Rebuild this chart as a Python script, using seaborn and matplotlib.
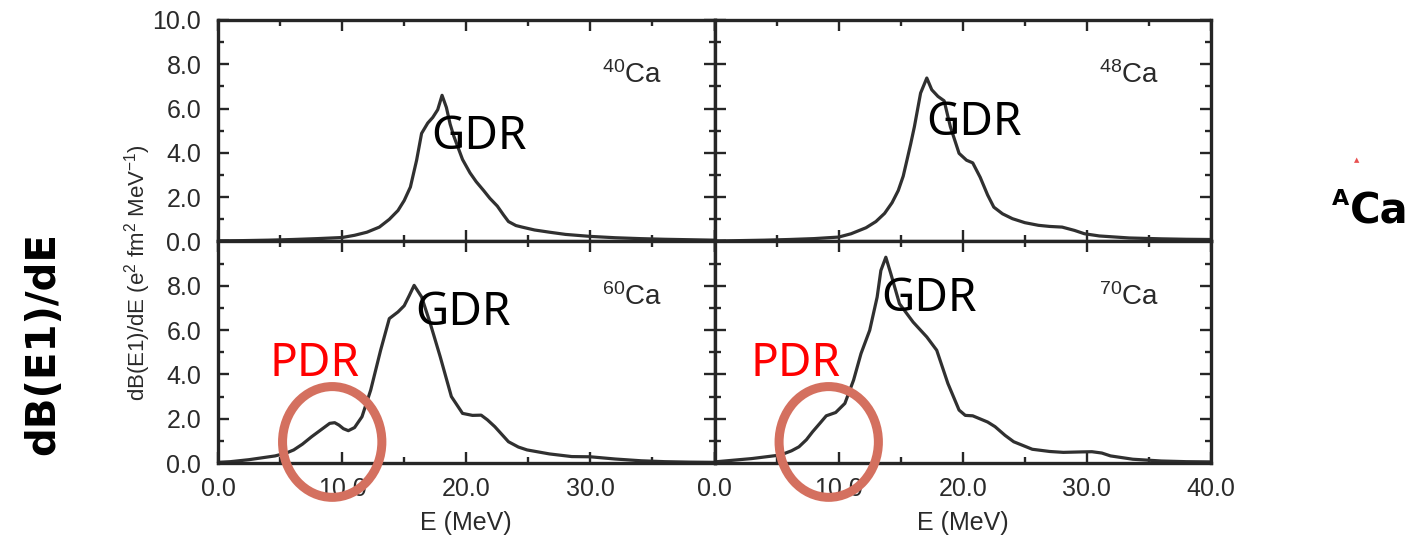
import numpy as np
import pandas as pd
import matplotlib
matplotlib.use("Agg")
import matplotlib.pyplot as plt
from matplotlib.patches import Ellipse
from matplotlib.ticker import MultipleLocator, FixedLocator, FixedFormatter
import seaborn as sns

# E1 strength distributions dB(E1)/dE for calcium isotopes
E_40 = [0, 2, 4, 6, 8, 10, 11, 12, 13, 13.8, 14.5, 15.0, 15.5, 16.0, 16.4, 16.9, 17.3, 17.7,
        18.05, 18.4, 18.7, 19.0, 19.7, 20.3, 20.8, 21.4, 21.9, 22.5, 23.0, 23.4, 24.0, 24.5,
        25.5, 26.7, 28, 30, 32, 34, 36, 38, 40]
dB_40 = [0.03, 0.04, 0.06, 0.09, 0.13, 0.18, 0.28, 0.42, 0.65, 1.0, 1.4, 1.85, 2.46, 3.67, 4.88,
         5.35, 5.6, 5.95, 6.6, 6.05, 5.3, 4.75, 3.7, 3.1, 2.7, 2.3, 1.95, 1.6, 1.2, 0.9, 0.72,
         0.65, 0.52, 0.42, 0.32, 0.23, 0.17, 0.13, 0.1, 0.08, 0.06]

E_48 = [0, 2, 4, 6, 8, 10, 11, 12.2, 13, 13.7, 14.3, 14.8, 15.2, 15.5, 15.8, 16.1, 16.6, 17.1,
        17.5, 18.0, 18.5, 19.0, 19.7, 20.3, 20.8, 21.4, 22.0, 22.5, 23.2, 24.0, 25.0, 26.1,
        27.0, 28.0, 29.0, 29.8, 31, 33.4, 36, 38, 40]
dB_48 = [0.02, 0.04, 0.06, 0.09, 0.13, 0.2, 0.35, 0.62, 0.9, 1.27, 1.75, 2.3, 2.95, 3.67, 4.4,
         5.18, 6.7, 7.38, 6.85, 6.55, 6.35, 5.18, 3.98, 3.67, 3.55, 2.9, 2.1, 1.55, 1.25, 1.03,
         0.85, 0.73, 0.68, 0.65, 0.5, 0.35, 0.25, 0.16, 0.12, 0.1, 0.09]

E_60 = [0, 1, 2.5, 4.6, 5.5, 6.1, 6.8, 7.55, 8.3, 9.0, 9.4, 9.75, 10.1, 10.5, 11.0, 11.6, 12.3,
        13.1, 13.8, 14.5, 15.0, 15.4, 15.8, 16.4, 17.1, 17.9, 18.8, 19.7, 20.5, 21.2, 21.7,
        22.3, 23.4, 24.2, 24.9, 26.7, 28.5, 30.0, 32, 34.1, 36, 38, 40]
dB_60 = [0.03, 0.06, 0.15, 0.32, 0.45, 0.59, 0.85, 1.19, 1.5, 1.79, 1.82, 1.71, 1.55, 1.46, 1.6,
         2.09, 3.29, 5.09, 6.52, 6.82, 7.1, 7.55, 8.02, 7.5, 6.3, 4.8, 3.0, 2.24, 2.15, 2.16,
         1.95, 1.64, 0.96, 0.72, 0.59, 0.41, 0.29, 0.28, 0.18, 0.1, 0.06, 0.04, 0.03]

E_70 = [0, 1, 3, 5.3, 6.2, 6.8, 7.4, 7.9, 8.5, 9.0, 9.76, 10.5, 11.2, 11.8, 12.5, 13.1, 13.4,
        13.8, 14.2, 14.9, 16.0, 17.1, 17.9, 18.8, 19.7, 20.2, 20.8, 22.0, 22.6, 23.4, 24.1,
        25.6, 27, 28.1, 29.5, 30.4, 31.2, 31.9, 33.7, 36, 38, 40]
dB_70 = [0.05, 0.1, 0.2, 0.36, 0.55, 0.73, 1.05, 1.41, 1.8, 2.13, 2.28, 2.69, 3.74, 4.94, 5.99,
         7.49, 8.69, 9.29, 8.55, 7.19, 6.36, 5.69, 5.09, 3.59, 2.39, 2.15, 2.13, 1.85, 1.64,
         1.25, 0.96, 0.62, 0.52, 0.48, 0.5, 0.51, 0.45, 0.32, 0.17, 0.09, 0.06, 0.05]

isotopes = ["40", "48", "60", "70"]
energies = [E_40, E_48, E_60, E_70]
strengths = [dB_40, dB_48, dB_60, dB_70]

x_ticks = [0, 10, 20, 30, 40]
x_ticklabels_left = ["0.0", "10.0", "20.0", "30.0", ""]
x_ticklabels_right = ["0.0", "10.0", "20.0", "30.0", "40.0"]
y_ticks = [0, 2, 4, 6, 8, 10]
y_ticklabels_top = ["0.0", "2.0", "4.0", "6.0", "8.0", "10.0"]
y_ticklabels_bottom = ["0.0", "2.0", "4.0", "6.0", "8.0", ""]

frames = []
for iso, e, b in zip(isotopes, energies, strengths):
    frames.append(pd.DataFrame({"E": e, "dB": b, "isotope": iso}))
data = pd.concat(frames, ignore_index=True)

sns.set_style("white")
plt.rcParams["font.family"] = ["Liberation Sans", "DejaVu Sans"]
plt.rcParams["mathtext.default"] = "regular"

ink = "#262626"
label_ink = "#2a2a2a"
ring = "#D4705F"

fig, axes = plt.subplots(2, 2, figsize=(14.11, 5.39), dpi=100)
fig.subplots_adjust(left=0.1545, right=0.8583, top=0.9629, bottom=0.141,
                    hspace=0, wspace=0)

for k, (ax, iso) in enumerate(zip(axes.flat, isotopes)):
    sub = data[data["isotope"] == iso]
    sns.lineplot(data=sub, x="E", y="dB", ax=ax, color="#303030", linewidth=2.3,
                 estimator=None, sort=False)
    ax.lines[-1].set_solid_joinstyle("round")
    ax.set_xlim(0, 40)
    ax.set_ylim(0, 10)
    ax.set_xlabel("")
    ax.set_ylabel("")
    for sp in ax.spines.values():
        sp.set_linewidth(2.4)
        sp.set_color(ink)
        sp.set_visible(True)
    ax.xaxis.set_major_locator(FixedLocator(x_ticks))
    ax.xaxis.set_minor_locator(MultipleLocator(5))
    ax.yaxis.set_major_locator(FixedLocator(y_ticks))
    ax.yaxis.set_minor_locator(MultipleLocator(1))
    ax.tick_params(which="both", direction="in", top=True, right=True, bottom=True,
                   left=True, color=ink, width=1.7, labelsize=18, labelcolor=label_ink)
    ax.tick_params(which="major", length=8)
    ax.tick_params(which="minor", length=4.5)
    ax.tick_params(axis="y", pad=12)
    ax.tick_params(axis="x", pad=10)
    row, col = divmod(k, 2)
    if row == 0:
        ax.tick_params(labelbottom=False)
    else:
        ax.xaxis.set_major_formatter(FixedFormatter(
            x_ticklabels_left if col == 0 else x_ticklabels_right))
        ax.set_xlabel("E (MeV)", fontsize=18, color=label_ink, labelpad=7)
    if col == 1:
        ax.tick_params(labelleft=False)
    else:
        ax.yaxis.set_major_formatter(FixedFormatter(
            y_ticklabels_top if row == 0 else y_ticklabels_bottom))
    ax.text(35.8, 7.15, r"$^{%s}$Ca" % iso, ha="right", va="baseline",
            fontsize=20, color=label_ink)

# resonance annotations
gdr_font = dict(family=["Noto Sans", "DejaVu Sans"], fontsize=33, color="black",
                ha="center", va="center")
axes[0, 0].text(21.0, 4.7, "GDR", **gdr_font)
axes[0, 1].text(20.9, 5.35, "GDR", **gdr_font)
axes[1, 0].text(19.7, 6.75, "GDR", **gdr_font)
axes[1, 1].text(17.3, 7.4, "GDR", **gdr_font)

pdr_font = dict(gdr_font, color="#ff0000")
axes[1, 0].text(7.8, 4.45, "PDR", **pdr_font)
axes[1, 1].text(6.5, 4.45, "PDR", **pdr_font)

for ax in (axes[1, 0], axes[1, 1]):
    ax.add_patch(Ellipse((9.2, 0.95), width=8.0, height=5.0, fill=False,
                         edgecolor=ring, linewidth=6.5, clip_on=False, zorder=10))

fig.text(0.0978, 0.4935, r"dB(E1)/dE (e$^2$ fm$^2$ MeV$^{-1}$)", rotation=90,
         fontsize=16, color=label_ink, ha="center", va="center")
fig.text(0.031, 0.362, "dB(E1)/dE", rotation=90, fontsize=29, fontweight="bold",
         family="DejaVu Sans", ha="center", va="center", color="black")
fig.text(0.9565, 1 - 223 / 539, "Ca", fontsize=30, fontweight="bold",
         family="DejaVu Sans", ha="left", va="baseline", color="black")
fig.text(0.9565, 1 - 205 / 539, "A", fontsize=16, fontweight="bold",
         family="DejaVu Sans", ha="right", va="baseline", color="black")
fig.text(0.9617, 1 - 160 / 539, "\u25b2", fontsize=5, color="#e85050",
         family="DejaVu Sans", ha="center", va="center")

fig.savefig("out.png", dpi=100, facecolor="white")
